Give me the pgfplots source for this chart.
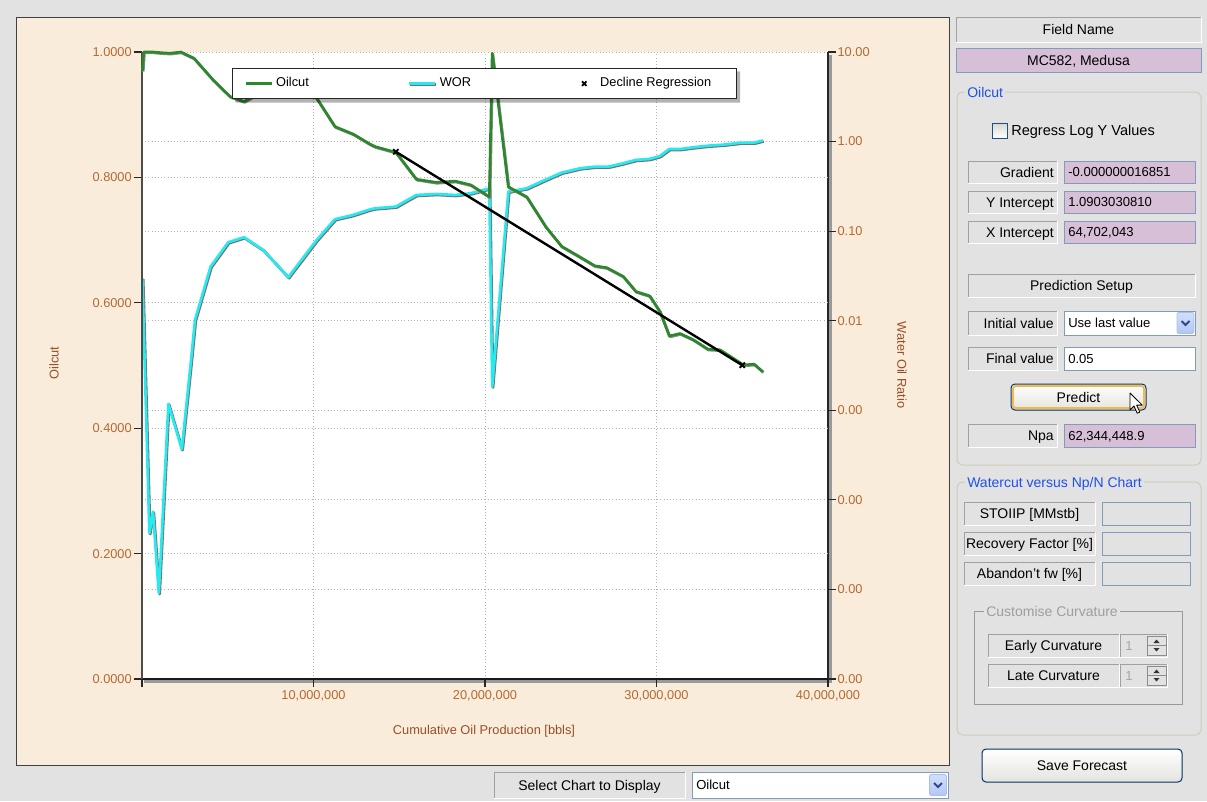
\documentclass[border=0pt]{standalone}
\usepackage{pgfplots}
\pgfplotsset{compat=1.18}
\usepackage{pgfplotstable}
\usepackage{fontspec}
\setmainfont{Liberation Sans}

\definecolor{uibg}{RGB}{226,226,226}
\definecolor{panelbg}{RGB}{250,236,219}
\definecolor{ticklab}{RGB}{180,105,50}
\definecolor{axlab}{RGB}{150,80,40}
\definecolor{oilgreen}{RGB}{45,135,45}
\definecolor{worcyan}{RGB}{40,232,240}
\definecolor{boxedge}{RGB}{127,157,185}
\definecolor{pinkval}{RGB}{216,191,216}
\definecolor{grpedge}{RGB}{205,205,190}
\definecolor{grpblue}{RGB}{30,80,235}
\definecolor{edgedark}{RGB}{160,160,160}
\definecolor{btnB}{RGB}{228,227,222}
\definecolor{btnedge}{RGB}{0,50,100}
\definecolor{btnfocus}{RGB}{245,185,70}
\definecolor{dropA}{RGB}{210,222,252}
\definecolor{dropB}{RGB}{178,198,245}
\definecolor{dropedge}{RGB}{170,190,235}
\definecolor{dropchev}{RGB}{50,70,140}
\definecolor{cbedge}{RGB}{28,81,128}
\definecolor{cbA}{RGB}{215,215,210}

\newcommand\chartfont{\fontsize{9.6}{11}\selectfont}
\newcommand\uifont{\fontsize{10.5}{12}\selectfont}
\newcommand\valfont{\fontsize{9.8}{12}\selectfont}

% Oilcut against cumulative oil production (millions of bbl)
\pgfplotstableread{
x     oc
0.03  0.970
0.10  1.000
0.64  1.000
1.05  0.999
1.63  0.998
2.27  1.000
3.03  0.990
4.16  0.955
5.13  0.929
5.95  0.921
7.07  0.938
8.53  0.970
10.19 0.926
11.25 0.881
12.32 0.869
13.30 0.853
13.60 0.849
14.80 0.840
16.00 0.797
17.16 0.792
18.27 0.794
19.17 0.788
20.25 0.769
20.42 0.998
21.36 0.785
22.43 0.769
23.55 0.721
24.47 0.690
25.54 0.673
26.40 0.659
27.10 0.656
28.06 0.642
28.80 0.618
29.60 0.611
30.20 0.586
30.75 0.547
31.37 0.551
32.15 0.541
33.00 0.526
33.70 0.525
34.50 0.511
35.06 0.501
35.70 0.502
36.20 0.490
}\oilcut

% Water oil ratio against cumulative oil production (millions of bbl)
\pgfplotstableread{
x     wor
0.02  0.0298
0.43  4.25e-5
0.64  7.4e-5
0.98  9.1e-6
1.54  1.18e-3
2.32  3.68e-4
2.86  3.65e-3
3.09  0.0102
4.00  0.0402
5.03  0.0752
5.95  0.0855
7.07  0.0617
8.53  0.0306
10.19 0.0798
11.25 0.136
12.32 0.152
13.30 0.175
13.60 0.180
14.80 0.188
16.00 0.2535
17.16 0.260
18.27 0.2535
19.17 0.265
20.25 0.300
20.42 0.00184
21.36 0.276
22.43 0.301
23.50 0.373
24.47 0.450
25.54 0.503
26.40 0.525
27.20 0.525
28.06 0.573
28.80 0.624
29.60 0.640
30.20 0.690
30.75 0.826
31.37 0.826
32.15 0.863
33.00 0.900
33.90 0.924
34.90 0.973
35.70 0.973
36.20 1.030
}\wor

% sunken label box
\newcommand\insetbox[4]{%
  \fill[uibg] (#1,#2) rectangle (#3,#4);
  \draw[edgedark, line width=0.75pt] (#1,#4) -- (#1,#2) -- (#3,#2);
  \draw[white, line width=0.75pt] (#3,#2) -- (#3,#4) -- (#1,#4);}
\newcommand\lblR[5]{\insetbox{#1}{#2}{#3}{#4}%
  \node[font=\uifont, anchor=base east, inner sep=0pt] at ({#3-3},{(#2+#4)/2+5}) {#5};}
\newcommand\lblC[5]{\insetbox{#1}{#2}{#3}{#4}%
  \node[font=\uifont, anchor=base, inner sep=0pt] at ({(#1+#3)/2},{(#2+#4)/2+5}) {#5};}
% edit field
\newcommand\field[6]{%
  \filldraw[fill=#5, draw=boxedge, line width=0.75pt] (#1,#2) rectangle (#3,#4);
  \node[font=\valfont, anchor=base west, inner sep=0pt] at ({#1+4},{(#2+#4)/2+4.7}) {#6};}
% combo drop button, top left corner given
\newcommand\dropbtn[2]{%
  \shadedraw[top color=dropA, bottom color=dropB, draw=dropedge, rounded corners=1.5pt, line width=0.6pt]
    (#1,#2) rectangle ({#1+17},{#2+21});
  \draw[dropchev, line width=1.4pt] ({#1+4.5},{#2+8.5}) -- ({#1+8.5},{#2+12.5}) -- ({#1+12.5},{#2+8.5});}
% disabled spin box, top left corner given
\newcommand\spin[2]{%
  \fill[uibg] (#1,#2) rectangle ({#1+47},{#2+23});
  \draw[edgedark, line width=0.75pt] (#1,{#2+23}) -- (#1,#2) -- ({#1+47},#2);
  \draw[white, line width=0.75pt] ({#1+47},#2) -- ({#1+47},{#2+23}) -- (#1,{#2+23});
  \node[font=\valfont, text=black!35, anchor=base west, inner sep=0pt] at ({#1+5},{#2+16.5}) {1};
  \filldraw[fill=uibg, draw=black!45, line width=0.6pt] ({#1+27},{#2+2}) rectangle ({#1+46},{#2+21});
  \draw[black!45, line width=0.6pt] ({#1+27},{#2+11.5}) -- ({#1+46},{#2+11.5});
  \fill[black!80] ({#1+33.5},{#2+9}) -- ({#1+36.5},{#2+5.5}) -- ({#1+39.5},{#2+9}) -- cycle;
  \fill[black!80] ({#1+33.5},{#2+14}) -- ({#1+36.5},{#2+17.5}) -- ({#1+39.5},{#2+14}) -- cycle;}

\begin{document}
\begin{tikzpicture}[x=0.75pt,y=-0.75pt]
% window
\fill[uibg] (0,0) rectangle (1207,801);
% chart panel
\filldraw[fill=panelbg, draw=black!75, line width=0.75pt] (16,17) rectangle (949,765);
% shadows of the right and bottom axis lines
\fill[black!40] (829,55) rectangle (832,682.5);
\fill[black!40] (144,680) rectangle (832,682.5);
\coordinate (plotSW) at (142,679);

% right axis: water oil ratio (log)
\begin{axis}[
  at={(plotSW)}, anchor=south west,
  scale only axis, width=514.5pt, height=470.25pt,
  xmin=0, xmax=40, ymode=log, ymin=1e-6, ymax=10,
  clip=false,
  axis background/.style={fill=white},
  axis x line*=bottom, axis y line*=right,
  every outer x axis line/.append style={-},
  every outer y axis line/.append style={-},
  x axis line style={draw=none},
  y axis line style={line width=1.6pt, black!85},
  xtick={10,20,30}, xticklabels={}, xtick style={draw=none},
  xmajorgrids=true, ymajorgrids=true,
  ytick={1e-6,1e-5,1e-4,1e-3,1e-2,1e-1,1,10},
  yticklabels={0.00,0.00,0.00,0.00,0.01,0.10,1.00,10.00},
  yminorticks=false,
  extra y ticks={2.512e-5,6.310e-4,1.585e-2,0.3981},
  extra y tick labels={},
  extra y tick style={grid=major, major tick length=0pt},
  grid style={dotted, black!30, line width=0.6pt},
  tick align=outside, major tick length=6pt,
  ytick style={black!85, line width=0.9pt},
  yticklabel style={font=\chartfont, text=ticklab, inner xsep=1pt},
]
\addplot[black!55, line width=2.1pt, line join=round, transform canvas={xshift=0.6pt, yshift=-0.7pt}]
  table[x=x, y=wor] {\wor};
\addplot[worcyan, line width=2pt, line join=round] table[x=x, y=wor] {\wor};
\end{axis}

% left axis: oilcut (linear)
\begin{axis}[
  at={(plotSW)}, anchor=south west,
  scale only axis, width=514.5pt, height=470.25pt,
  xmin=0, xmax=40, ymin=0, ymax=1,
  clip=false,
  axis x line*=bottom, axis y line*=left,
  every outer x axis line/.append style={-},
  every outer y axis line/.append style={-},
  x axis line style={line width=1.5pt, black!90},
  y axis line style={line width=0.9pt, black!70},
  xtick={0,10,20,30,40},
  xticklabels={{},{10,000,000},{20,000,000},{30,000,000},{40,000,000}},
  ytick={0,0.2,0.4,0.6,0.8,1},
  yticklabels={0.0000,0.2000,0.4000,0.6000,0.8000,1.0000},
  tick align=outside, major tick length=6pt,
  tick style={black!85, line width=0.9pt},
  xticklabel style={font=\chartfont, text=ticklab, inner ysep=2.5pt},
  yticklabel style={font=\chartfont, text=ticklab, inner xsep=1.5pt},
  legend columns=3,
  legend image code/.code={\draw[#1] (0pt,0pt) -- (19.5pt,0pt);},
  legend style={
    name=lgd,
    at={(0.1312,0.9745)}, anchor=north west,
    draw=black!85, line width=0.75pt, fill=white,
    inner xsep=9pt, inner ysep=6.8pt,
    font=\chartfont,
    /tikz/every odd column/.append style={column sep=2.25pt},
    nodes={inner sep=0pt, text height=7pt, text depth=2pt},
  },
]
\addplot[black!45, line width=2.1pt, line join=round, forget plot,
  transform canvas={xshift=0.5pt, yshift=-0.6pt}] table[x=x, y=oc] {\oilcut};
\addplot[oilgreen, line width=2pt, line join=round] table[x=x, y=oc] {\oilcut};
\addlegendentry{\makebox[98.5pt][l]{Oilcut}}
\addlegendimage{legend image code/.code={
  \draw[black!55, line width=2.1pt] (0.5pt,-0.6pt) -- (20pt,-0.6pt);
  \draw[worcyan, line width=2pt] (0pt,0pt) -- (19.5pt,0pt);}}
\addlegendentry{\makebox[98.5pt][l]{WOR}}
\addlegendimage{legend image code/.code={
  \path[draw=none] (0pt,0pt) -- (19.5pt,0pt);
  \draw[black, line width=1.3pt] plot[mark=x, mark size=2.4pt] coordinates {(9.75pt,0pt)};}}
\addlegendentry{\makebox[93pt][l]{Decline Regression}}
% linear decline fitted through the selected points
\addplot[black, line width=1.8pt, mark=x, mark size=2.8pt, mark options={line width=1.4pt}, forget plot]
  coordinates {(14.8,0.8409) (35.0,0.5005)};
\end{axis}

% legend drop shadow along its right and bottom edges
\fill[black, opacity=0.3]
  ([yshift=-2.6pt]lgd.north east) -- ([xshift=2.6pt,yshift=-2.6pt]lgd.north east)
  -- ([xshift=2.6pt,yshift=-2.6pt]lgd.south east) -- ([xshift=2.6pt,yshift=-2.6pt]lgd.south west)
  -- ([xshift=2.6pt]lgd.south west) -- (lgd.south east) -- cycle;

% axis titles
\node[font=\chartfont, text=axlab, rotate=90] at (54,363) {Oilcut};
\node[font=\chartfont, text=axlab, rotate=-90] at (902,365) {Water Oil Ratio};
\node[font=\chartfont, text=axlab] at (484,731) {Cumulative Oil Production [bbls]};

% ---------- side panel ----------
\lblC{956}{17}{1201}{42}{Field Name}
\filldraw[fill=pinkval, draw=boxedge, line width=0.75pt] (956,48) rectangle (1201,72);
\node[font=\uifont, anchor=base, inner sep=0pt] at (1078.5,65) {MC582, Medusa};

% Oilcut group
\draw[grpedge, line width=0.75pt, rounded corners=4pt] (957,92) rectangle (1201,465);
\node[font=\uifont, text=grpblue, fill=uibg, inner xsep=1.5pt, inner ysep=1pt, anchor=base west] at (965,97) {Oilcut};
\shadedraw[top color=cbA, bottom color=white, draw=cbedge, line width=0.75pt] (992,123) rectangle (1007,138);
\node[font=\fontsize{10.9}{12}\selectfont, anchor=base west, inner sep=0pt] at (1011,135.5) {Regress Log Y Values};

\lblR{968}{161}{1057}{183}{Gradient}
\field{1064}{161}{1195}{183}{pinkval}{-0.000000016851}
\lblR{968}{191}{1057}{213}{Y Intercept}
\field{1064}{191}{1195}{213}{pinkval}{1.0903030810}
\lblR{968}{221}{1057}{243}{X Intercept}
\field{1064}{221}{1195}{243}{pinkval}{64,702,043}

\lblC{968}{274}{1195}{297}{Prediction Setup}
\lblR{968}{311}{1057}{335}{Initial value}
\field{1064}{311}{1195}{335}{white}{Use last value}
\dropbtn{1177}{312.5}
\lblR{968}{347}{1057}{370}{Final value}
\field{1064}{347}{1195}{370}{white}{0.05}

% Predict button (focused)
\shadedraw[top color=white, bottom color=btnB, draw=btnedge, rounded corners=3pt, line width=0.75pt] (1011,384) rectangle (1146,410);
\draw[btnfocus, line width=1.4pt, rounded corners=2pt] (1013,386) rectangle (1144,408);
\node[font=\uifont, anchor=base, inner sep=0pt] at (1078.5,402) {Predict};

\lblR{968}{424}{1057}{447}{Npa}
\field{1064}{424}{1195}{447}{pinkval}{62,344,448.9}

% mouse pointer
\filldraw[fill=white, draw=black, line width=0.6pt, line join=round]
  (1130,393) -- ++(0,17) -- ++(4,-4) -- ++(3.2,7.2) -- ++(2.6,-1.1) -- ++(-3.2,-7) -- ++(5.6,0) -- cycle;

% Watercut group
\draw[grpedge, line width=0.75pt, rounded corners=4pt] (957,482) rectangle (1201,735);
\node[font=\uifont, text=grpblue, fill=uibg, inner xsep=1.5pt, inner ysep=1pt, anchor=base west] at (965,487) {Watercut versus Np/N Chart};

\lblC{964}{502}{1095}{525}{STOIIP [MMstb]}
\field{1102}{502}{1190}{525}{uibg}{}
\lblC{964}{532}{1095}{555}{Recovery Factor [\%]}
\field{1102}{532}{1190}{555}{uibg}{}
\lblC{964}{562}{1095}{585}{Abandon't fw [\%]}
\field{1102}{562}{1190}{585}{uibg}{}

% Customise Curvature group (disabled)
\draw[black!40, line width=0.75pt] (974,611) rectangle (1182,704);
\node[font=\uifont, text=black!38, fill=uibg, inner xsep=1.5pt, inner ysep=1pt, anchor=base west] at (984,616) {Customise Curvature};
\lblC{988}{634}{1119}{657}{Early Curvature}
\spin{1120}{634}
\lblC{988}{664}{1119}{687}{Late Curvature}
\spin{1120}{664}

% Save Forecast button
\shadedraw[top color=white, bottom color=btnB, draw=btnedge, rounded corners=3pt, line width=0.75pt] (982,749) rectangle (1182,782);
\node[font=\uifont, anchor=base, inner sep=0pt] at (1082,770.5) {Save Forecast};

% chart selector
\lblC{494}{772}{685}{798}{Select Chart to Display}
\field{692}{772}{948}{798}{white}{Oilcut}
\dropbtn{929.5}{774.5}

\pgfresetboundingbox
\path[use as bounding box] (0,0) rectangle (1207,801);
\end{tikzpicture}
\end{document}
